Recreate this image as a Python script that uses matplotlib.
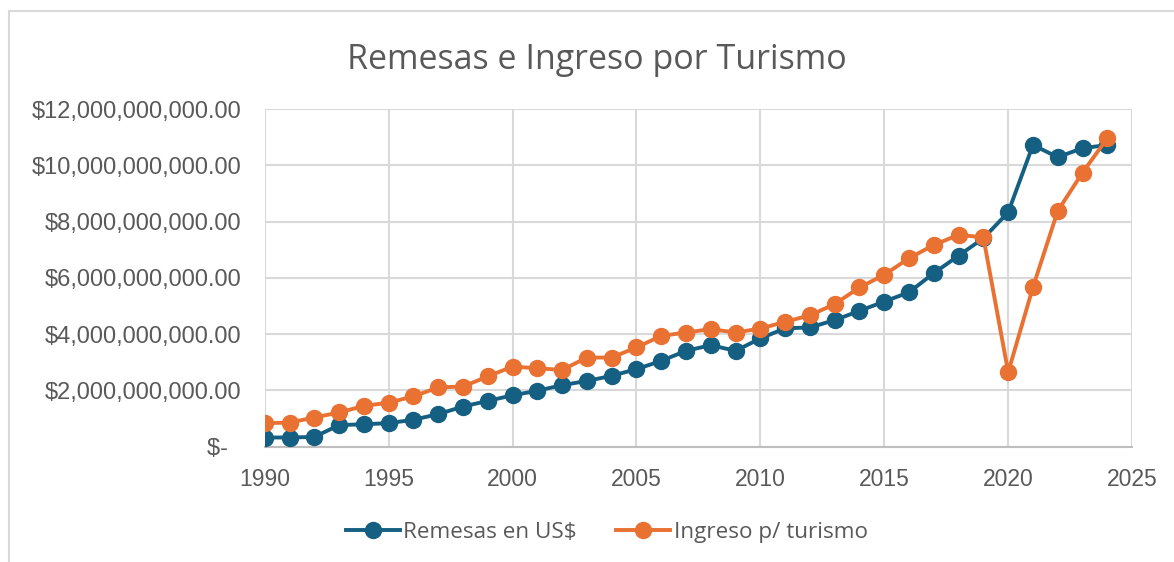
import matplotlib.pyplot as plt
from matplotlib.patches import Rectangle

years = list(range(1990, 2025))

# billions of US$
remesas = [0.33, 0.33, 0.35, 0.77, 0.80, 0.84, 0.96, 1.16, 1.43, 1.63,
           1.83, 1.99, 2.19, 2.34, 2.52, 2.76, 3.05, 3.41, 3.61, 3.41,
           3.85, 4.21, 4.24, 4.50, 4.83, 5.16, 5.49, 6.17, 6.79, 7.41,
           8.33, 10.72, 10.29, 10.61, 10.72]
turismo = [0.84, 0.86, 1.04, 1.22, 1.45, 1.57, 1.79, 2.11, 2.14, 2.50,
           2.85, 2.79, 2.73, 3.17, 3.17, 3.53, 3.94, 4.06, 4.18, 4.06,
           4.20, 4.44, 4.67, 5.07, 5.66, 6.11, 6.70, 7.17, 7.53, 7.44,
           2.65, 5.67, 8.38, 9.74, 10.96]

y_ticks = [0, 2e9, 4e9, 6e9, 8e9, 10e9, 12e9]
y_labels = ['$-  ', '$2,000,000,000.00', '$4,000,000,000.00', '$6,000,000,000.00',
            '$8,000,000,000.00', '$10,000,000,000.00', '$12,000,000,000.00']
x_ticks = [1990, 1995, 2000, 2005, 2010, 2015, 2020, 2025]

blue = '#156082'
orange = '#E97132'
grid = '#d9d9d9'
txt = '#595959'

fig = plt.figure(figsize=(11.74, 5.62), dpi=100)
fig.patches.append(Rectangle((0.0077, -0.1), 1.1, 1.08, transform=fig.transFigure,
                             fill=False, edgecolor=grid, linewidth=1.5))

ax = fig.add_axes([0.2255, 0.205, 0.7388, 0.601])

ax.plot(years, [v * 1e9 for v in remesas], color=blue, lw=2.8, marker='o',
        markersize=11.5, label='Remesas en US$', zorder=3)
ax.plot(years, [v * 1e9 for v in turismo], color=orange, lw=2.8, marker='o',
        markersize=11.5, label='Ingreso p/ turismo', zorder=3)

ax.set_xlim(1990, 2025)
ax.set_ylim(0, 12e9)
ax.set_xticks(x_ticks)
ax.set_yticks(y_ticks)
ax.set_yticklabels(y_labels)
ax.tick_params(length=0, labelsize=16.5, labelcolor=txt)
ax.tick_params(axis='y', pad=17, labelsize=17)
ax.tick_params(axis='x', pad=15)
for lab in ax.get_xticklabels() + ax.get_yticklabels():
    lab.set_family('Liberation Sans')

ax.grid(True, color=grid, lw=1.5)
ax.set_axisbelow(True)
for s in ['top', 'right', 'left']:
    ax.spines[s].set_visible(False)
ax.spines['bottom'].set_color('#bfbfbf')
ax.spines['bottom'].set_linewidth(1.5)

fig.text(0.508, 0.877, 'Remesas e Ingreso por Turismo', ha='center', va='baseline',
         fontsize=24.5, color=txt, family='Open Sans')

leg = fig.legend(loc='center', bbox_to_anchor=(0.517, 0.052), ncol=2, frameon=False,
                 handlelength=2.4, columnspacing=1.75, handletextpad=0.15,
                 prop={'family': 'Open Sans', 'size': 16.2})
for t in leg.get_texts():
    t.set_color(txt)

fig.savefig('out.png', dpi=100)
